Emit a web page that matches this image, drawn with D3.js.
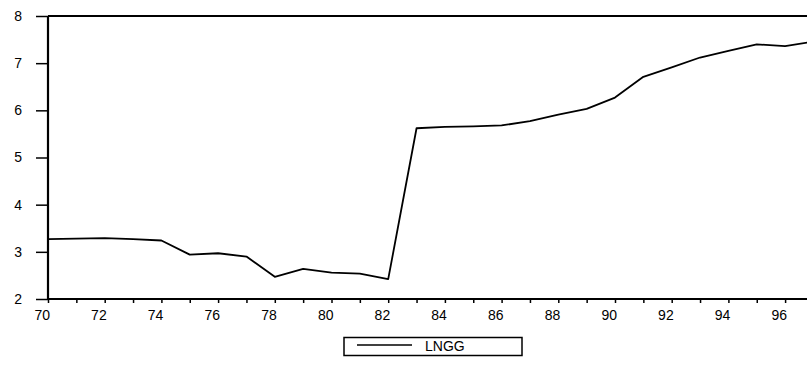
<!DOCTYPE html>
<html>
<head>
<meta charset="utf-8">
<script src="https://cdn.jsdelivr.net/npm/d3@7"></script>
<style>
  html, body { margin: 0; padding: 0; background: #fff; }
  svg { display: block; font-family: Arial, "Liberation Sans", Helvetica, sans-serif; }
</style>
</head>
<body>
<svg id="chart" width="807" height="365"></svg>
<script>
// Annual observations, 1970-1997 (two-digit year labels)
const years = [70, 71, 72, 73, 74, 75, 76, 77, 78, 79, 80, 81, 82, 83,
               84, 85, 86, 87, 88, 89, 90, 91, 92, 93, 94, 95, 96, 97];
const lngg = [3.27, 3.28, 3.29, 3.27, 3.24, 2.94, 2.97, 2.90, 2.47, 2.64,
              2.56, 2.54, 2.42, 5.62, 5.65, 5.66, 5.68, 5.77, 5.91, 6.03,
              6.27, 6.71, 6.91, 7.12, 7.26, 7.40, 7.36, 7.46];
const yTicks = [2, 3, 4, 5, 6, 7, 8];
const xLabels = [70, 72, 74, 76, 78, 80, 82, 84, 86, 88, 90, 92, 94, 96];
const seriesName = "LNGG";

const svg = d3.select("#chart");

const plotLeft = 48, plotTop = 16, plotBottom = 299;
const x = d3.scaleLinear().domain([70, 97]).range([plotLeft, plotLeft + 27 * 28.35]);
const y = d3.scaleLinear().domain([2, 8]).range([plotBottom, plotTop]);

// Top border of the frame
svg.append("line")
  .attr("x1", plotLeft).attr("x2", 817)
  .attr("y1", plotTop).attr("y2", plotTop)
  .attr("stroke", "#000").attr("stroke-width", 2);

// Y axis: long outward ticks to the left
const yAxis = d3.axisLeft(y).tickValues(yTicks).tickSize(12).tickPadding(14)
  .tickFormat(d3.format("d"));
const gy = svg.append("g").attr("transform", `translate(${plotLeft},0)`).call(yAxis);
gy.select(".domain").attr("stroke-width", 2.2).attr("d", `M0,${plotTop}V${plotBottom}`);
gy.selectAll(".tick line").attr("stroke-width", 1.5);
gy.selectAll(".tick text").attr("font-size", 14).attr("fill", "#000")
  .attr("font-family", "Arial, 'Liberation Sans', sans-serif");

// X axis: a short tick every year, labels on even years, right-aligned to their tick
const xAxis = d3.axisBottom(x).tickValues(years).tickSize(4).tickPadding(7)
  .tickFormat(d => xLabels.includes(d) ? String(d) : "");
const gx = svg.append("g").attr("transform", `translate(0,${plotBottom})`).call(xAxis);
gx.select(".domain").attr("stroke-width", 2).attr("d", `M${plotLeft},0H817`);
gx.selectAll(".tick line").attr("stroke-width", 1.5);
gx.selectAll(".tick text").attr("font-size", 14).attr("fill", "#000")
  .attr("text-anchor", "end").attr("dx", 1.5)
  .attr("font-family", "Arial, 'Liberation Sans', sans-serif");

// Series line
const line = d3.line().x((d, i) => x(years[i])).y(d => y(d));
svg.append("path")
  .datum(lngg)
  .attr("d", line)
  .attr("fill", "none")
  .attr("stroke", "#000")
  .attr("stroke-width", 1.8)
  .attr("stroke-linejoin", "round");

// Legend
const lg = svg.append("g");
lg.append("rect")
  .attr("x", 344).attr("y", 337.5).attr("width", 178).attr("height", 18)
  .attr("fill", "none").attr("stroke", "#000").attr("stroke-width", 1.5);
lg.append("line")
  .attr("x1", 357).attr("x2", 412).attr("y1", 345).attr("y2", 345)
  .attr("stroke", "#000").attr("stroke-width", 1.5);
lg.append("text")
  .attr("x", 425).attr("y", 351)
  .attr("font-size", 14).attr("fill", "#000")
  .text(seriesName);
</script>
</body>
</html>
